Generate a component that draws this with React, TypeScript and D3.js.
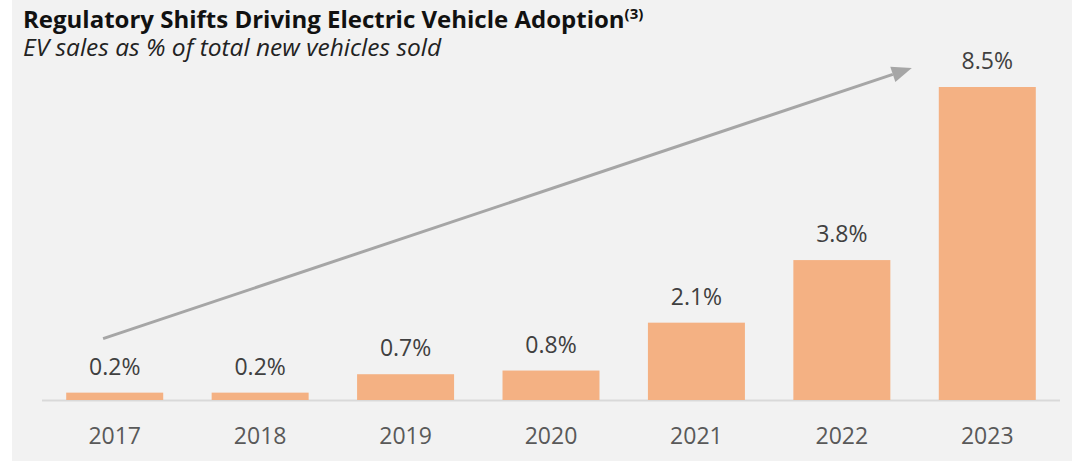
import React from "react";
import * as d3 from "d3";

const years = ["2017", "2018", "2019", "2020", "2021", "2022", "2023"];
const evShare = [0.2, 0.2, 0.7, 0.8, 2.1, 3.8, 8.5];
const valueLabels = ["0.2%", "0.2%", "0.7%", "0.8%", "2.1%", "3.8%", "8.5%"];

const W = 1076;
const H = 461;

export default function App() {
  const x = d3.scaleBand<string>().domain(years).range([42, 1060]).paddingInner(0.333).paddingOuter(0.1665);
  const y = d3.scaleLinear().domain([0, 8.5]).range([400, 87]);
  const bw = x.bandwidth();

  const x0 = (x(years[0]) as number) + bw * 0.38;
  const y0 = y(evShare[0]) - 54;
  const x1 = (x(years[6]) as number) - 27;
  const y1 = y(evShare[6]) - 19;
  const ang = Math.atan2(y1 - y0, x1 - x0);
  const headLen = 20;
  const headW = 8;
  const bx = x1 - headLen * Math.cos(ang);
  const by = y1 - headLen * Math.sin(ang);
  const px = -Math.sin(ang) * headW;
  const py = Math.cos(ang) * headW;

  return (
    <svg width={W} height={H} style={{ position: "absolute", left: 0, top: 0 }} fontFamily="'Open Sans', sans-serif">
      <rect x={12} y={0} width={1060} height={H} fill="#f2f2f2" />
      <text x={23} y={28} fontSize={24} fontWeight={700} fill="#111">
        Regulatory Shifts Driving Electric Vehicle Adoption
        <tspan fontSize={15} dy={-9}>(3)</tspan>
      </text>
      <text x={23} y={56} fontSize={24.5} fontStyle="italic" fill="#222">
        EV sales as % of total new vehicles sold
      </text>
      <line x1={42} x2={1060} y1={y(0) + 0.5} y2={y(0) + 0.5} stroke="#d9d9d9" strokeWidth={2} />
      {years.map((yr, i) => (
        <g key={yr}>
          <rect x={x(yr)} y={y(evShare[i])} width={bw} height={y(0) - y(evShare[i])} fill="#f4b183" />
          <text x={(x(yr) as number) + bw / 2} y={y(evShare[i]) - 18} textAnchor="middle" fontSize={23} fill="#404040">
            {valueLabels[i]}
          </text>
          <text x={(x(yr) as number) + bw / 2} y={444} textAnchor="middle" fontSize={23} fill="#595959">
            {yr}
          </text>
        </g>
      ))}
      <line x1={x0} y1={y0} x2={bx} y2={by} stroke="#a6a6a6" strokeWidth={3} />
      <polygon points={`${x1},${y1} ${bx + px},${by + py} ${bx - px},${by - py}`} fill="#a6a6a6" />
    </svg>
  );
}
